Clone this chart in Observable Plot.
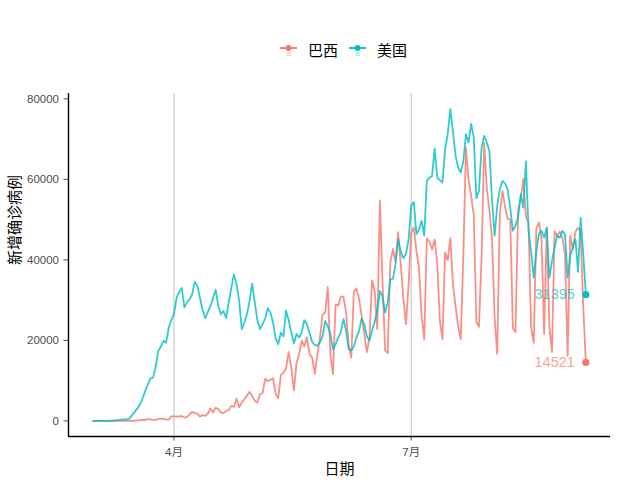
<!DOCTYPE html>
<html>
<head>
<meta charset="utf-8">
<script src="https://cdn.jsdelivr.net/npm/d3@7"></script>
<script src="https://cdn.jsdelivr.net/npm/@observablehq/plot@0.6"></script>
<style>
  html, body { margin: 0; padding: 0; background: #ffffff; }
  body { width: 640px; height: 480px; overflow: hidden; font-family: "Liberation Sans", "Noto Sans CJK SC", sans-serif; }
  #legend { position: relative; height: 90px; }
  #legend .items { position: absolute; top: 41px; left: 280px; display: flex; align-items: center; height: 18px; }
  #legend .item { display: flex; align-items: center; margin-right: 11px; }
  #legend .item span { font-size: 15px; color: #000; margin-left: 10px; font-family: "Noto Sans CJK SC", sans-serif; line-height: 18px; }
  #chart svg { display: block; }
</style>
</head>
<body>
<div id="legend"><div class="items"></div></div>
<div id="chart"></div>
<script>
// ---- data ----
const countries = ["巴西", "美国"];
const colors = ["#F8766D", "#00BFC4"];
const startDate = "2020-03-01"; // first day of both series, one value per day
const xTicks = ["2020-04-01", "2020-07-01"];
const xTickLabels = ["4月", "7月"];
const yTicks = [0, 20000, 40000, 60000, 80000];
const xTitle = "日期";
const yTitle = "新增确诊病例";

// 巴西 daily new cases, 2020-03-01 .. 2020-09-06
const brazil = [
  0,0,0,1,0,5,5,6,4,9,
  18,25,21,23,79,34,57,137,193,283,224,418,345,310,232,482,502,487,352,323,1138,
  1119,1074,1146,1222,852,926,1661,2210,1930,1781,1089,1442,1261,1832,3058,2105,3257,2917,2055,1927,2498,2678,3735,3503,5514,3379,4613,5385,6276,7218,
  6209,4970,4588,6633,6935,10503,9888,10222,10611,6760,5632,11385,11923,13028,17126,13220,7569,14288,16517,19951,18508,20803,16508,15813,11687,16324,20599,26417,26928,33274,16409,
  11598,28936,28633,30925,30830,27075,18912,15654,32091,32913,30412,25982,21704,17110,20647,34918,32188,22765,54771,34666,17459,16851,39436,42725,39483,46860,38693,30476,24052,33846,
  46712,48105,42223,37923,26051,20229,45305,44571,42619,45048,39023,24831,20286,41857,39924,45403,34177,28532,23529,20257,41008,67860,59961,55891,51147,24578,23384,40816,69074,57837,52383,
  45392,25800,16641,51603,57152,53139,50230,49970,23010,22048,52160,55155,60091,50644,49274,23101,19373,47784,49298,45323,21600,48000,23421,17078,47134,46000,47000,45500,41350,16158,45961,
  42659,47000,48000,47000,28150,14521
];

// 美国 daily new cases, 2020-03-01 .. 2020-09-06
const usa = [
  0,0,0,0,0,0,0,50,100,150,
  250,300,350,400,600,1500,2300,3100,4150,5600,
  7500,9100,10600,10700,13500,17400,18500,19900,19400,23200,
  25000,26500,30600,32000,33000,28200,29500,30200,31500,34600,
  33500,30500,27500,25500,27000,28500,30500,32600,28500,26500,
  27300,25500,29500,33000,36400,34000,30000,22800,24500,26500,
  29800,34100,29500,25000,22800,24000,25500,28000,26900,24500,
  20500,19050,21900,21000,27400,25000,22000,19250,21600,20700,
  22000,25000,24000,21900,19600,18900,18650,19500,21000,24850,
  23500,21550,17800,19000,20700,22000,25300,22500,17800,17500,
  18500,20700,22300,25500,24000,21000,19900,22500,24650,27500,
  32300,30800,26900,29500,35200,35300,39000,45150,42000,40400,
  41500,45000,53400,54400,46400,47500,49700,46000,59600,60450,
  60800,67700,60400,59800,59200,67500,71200,77450,72000,66000,
  63000,61700,64500,71200,69150,73800,70400,55300,57150,67900,
  70800,69150,67000,55000,46000,53400,57600,59600,59000,57500,
  53000,47200,48500,50500,56300,53000,64450,47500,42000,35600,
  42000,46500,47200,45500,48000,35600,39750,43000,46000,45500,
  47200,46400,35600,41000,43050,45150,37000,50500,41400,31395
];

// ---- build table ----
const DAY = 864e5;
const t0 = Date.parse(startDate);
const seriesValues = [brazil, usa];
const rows = [];
seriesValues.forEach((vals, i) => {
  vals.forEach((v, d) => rows.push({country: countries[i], date: new Date(t0 + d * DAY), value: v}));
});
const last = seriesValues.map((vals, i) => ({country: countries[i], date: new Date(t0 + (vals.length - 1) * DAY), value: vals[vals.length - 1]}));

const tMin = t0, tMax = t0 + (Math.max(brazil.length, usa.length) - 1) * DAY;
const xPad = (tMax - tMin) * 0.05;
const xDomain = [new Date(tMin - xPad), new Date(tMax + xPad)];
const vMax = d3.max(rows, d => d.value), vMin = 0;
const yPad = (vMax - vMin) * 0.05;
const yDomain = [vMin - yPad, vMax + yPad];
const xTickDates = xTicks.map(s => new Date(Date.parse(s)));

// ---- legend (HTML) ----
const legendItems = document.querySelector("#legend .items");
countries.forEach((c, i) => {
  const item = document.createElement("div");
  item.className = "item";
  item.innerHTML =
    `<svg width="18" height="18" viewBox="0 0 18 18">
       <line x1="0" x2="17" y1="7" y2="7" stroke="${colors[i]}" stroke-width="1.8"/>
       <circle cx="8.5" cy="7" r="3" fill="${colors[i]}"/>
       <text x="8.5" y="14.5" text-anchor="middle" font-size="8" fill="${colors[i]}" fill-opacity="0.6" font-family="Liberation Sans">a</text>
     </svg><span>${c}</span>`;
  legendItems.appendChild(item);
});

// ---- chart ----
const tickColor = "#4D4D4D";
const chart = Plot.plot({
  width: 640,
  height: 390,
  marginTop: 3,
  marginBottom: 44,
  marginLeft: 68,
  marginRight: 30,
  style: {fontFamily: '"Liberation Sans", "Noto Sans CJK SC", sans-serif', background: "#ffffff"},
  x: {type: "utc", domain: xDomain},
  y: {domain: yDomain},
  color: {domain: countries, range: colors},
  marks: [
    Plot.ruleX(xTickDates, {stroke: "#BEBEBE", strokeWidth: 1}),
    Plot.line(rows, {x: "date", y: "value", z: "country", stroke: "country", strokeWidth: 1.8, strokeOpacity: 0.82}),
    Plot.dot(last, {x: "date", y: "value", fill: "country", r: 3.6}),
    Plot.text(last, {x: "date", y: "value", text: d => String(d.value), fill: "country", fillOpacity: 0.7,
      textAnchor: "end", dx: -11, fontSize: 14.5, fontFamily: "Liberation Sans"}),
    Plot.axisX({ticks: xTickDates, tickFormat: (d, i) => xTickLabels[i], tickSize: 4.5, tickPadding: 7,
      fontSize: 11.5, color: tickColor, label: null}),
    Plot.axisY({ticks: yTicks, tickFormat: d => String(d), tickSize: 4.5, tickPadding: 5,
      fontSize: 11.5, color: tickColor, label: null}),
    Plot.ruleX([xDomain[0]], {stroke: "#000000", strokeWidth: 1.4}),
    Plot.ruleY([yDomain[0]], {stroke: "#000000", strokeWidth: 1.4}),
    Plot.text([xTitle], {frameAnchor: "bottom", dy: 37, fontSize: 15, fill: "#000000",
      fontFamily: '"Noto Sans CJK SC", sans-serif'}),
    Plot.text([yTitle], {frameAnchor: "left", dx: -53, rotate: -90, fontSize: 15, fill: "#000000",
      fontFamily: '"Noto Sans CJK SC", sans-serif'})
  ]
});
document.getElementById("chart").appendChild(chart);
</script>
</body>
</html>
